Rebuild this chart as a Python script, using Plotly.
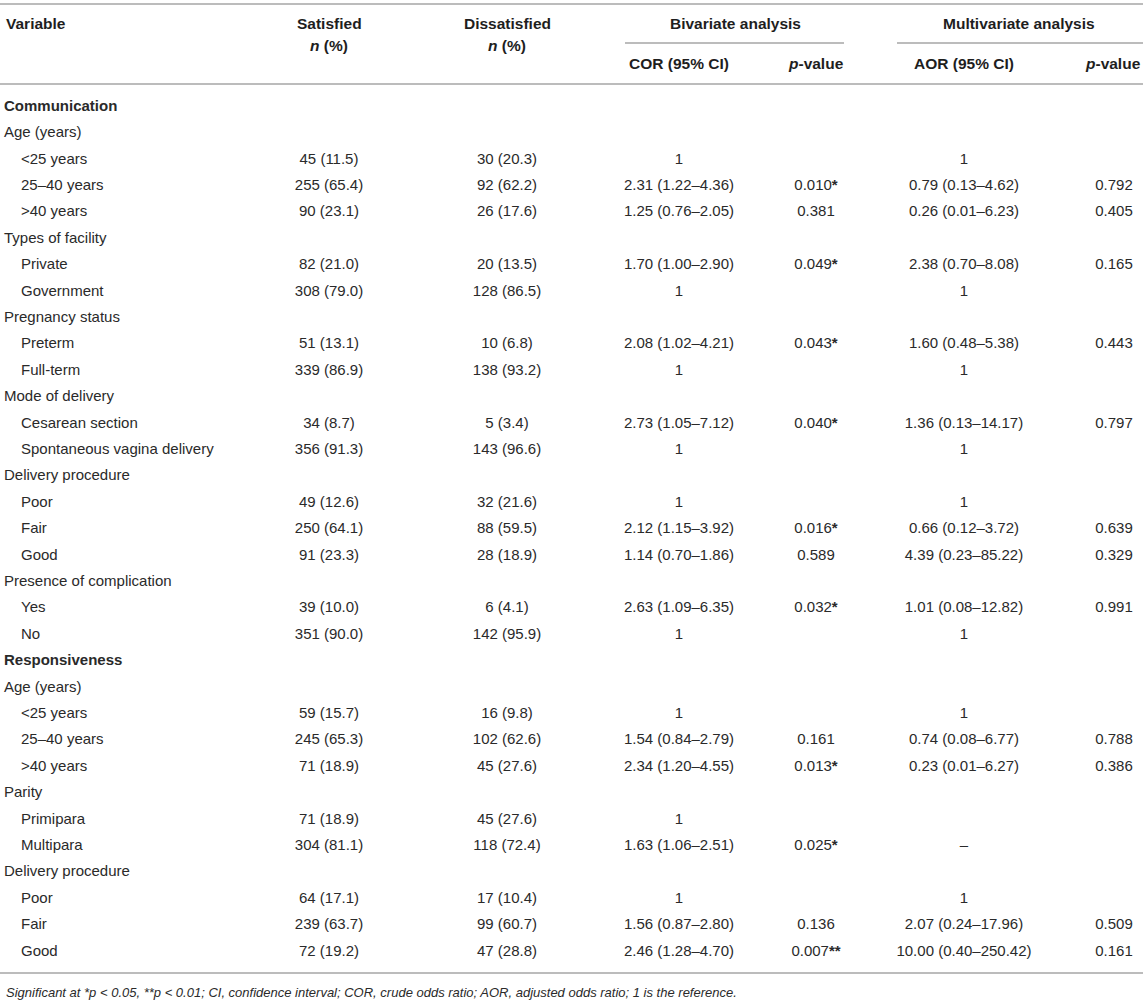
import plotly.graph_objects as go

# table content
SECTIONS = ["Communication", "Responsiveness"]

variable = [
    "Communication", "Age (years)", "&lt;25 years", "25–40 years", "&gt;40 years",
    "Types of facility", "Private", "Government",
    "Pregnancy status", "Preterm", "Full-term",
    "Mode of delivery", "Cesarean section", "Spontaneous vagina delivery",
    "Delivery procedure", "Poor", "Fair", "Good",
    "Presence of complication", "Yes", "No",
    "Responsiveness", "Age (years)", "&lt;25 years", "25–40 years", "&gt;40 years",
    "Parity", "Primipara", "Multipara",
    "Delivery procedure", "Poor", "Fair", "Good",
]
satisfied = [
    "", "", "45 (11.5)", "255 (65.4)", "90 (23.1)",
    "", "82 (21.0)", "308 (79.0)",
    "", "51 (13.1)", "339 (86.9)",
    "", "34 (8.7)", "356 (91.3)",
    "", "49 (12.6)", "250 (64.1)", "91 (23.3)",
    "", "39 (10.0)", "351 (90.0)",
    "", "", "59 (15.7)", "245 (65.3)", "71 (18.9)",
    "", "71 (18.9)", "304 (81.1)",
    "", "64 (17.1)", "239 (63.7)", "72 (19.2)",
]
dissatisfied = [
    "", "", "30 (20.3)", "92 (62.2)", "26 (17.6)",
    "", "20 (13.5)", "128 (86.5)",
    "", "10 (6.8)", "138 (93.2)",
    "", "5 (3.4)", "143 (96.6)",
    "", "32 (21.6)", "88 (59.5)", "28 (18.9)",
    "", "6 (4.1)", "142 (95.9)",
    "", "", "16 (9.8)", "102 (62.6)", "45 (27.6)",
    "", "45 (27.6)", "118 (72.4)",
    "", "17 (10.4)", "99 (60.7)", "47 (28.8)",
]
cor = [
    "", "", "1", "2.31 (1.22–4.36)", "1.25 (0.76–2.05)",
    "", "1.70 (1.00–2.90)", "1",
    "", "2.08 (1.02–4.21)", "1",
    "", "2.73 (1.05–7.12)", "1",
    "", "1", "2.12 (1.15–3.92)", "1.14 (0.70–1.86)",
    "", "2.63 (1.09–6.35)", "1",
    "", "", "1", "1.54 (0.84–2.79)", "2.34 (1.20–4.55)",
    "", "1", "1.63 (1.06–2.51)",
    "", "1", "1.56 (0.87–2.80)", "2.46 (1.28–4.70)",
]
p_cor = [
    "", "", "", "0.010*", "0.381",
    "", "0.049*", "",
    "", "0.043*", "",
    "", "0.040*", "",
    "", "", "0.016*", "0.589",
    "", "0.032*", "",
    "", "", "", "0.161", "0.013*",
    "", "", "0.025*",
    "", "", "0.136", "0.007**",
]
aor = [
    "", "", "1", "0.79 (0.13–4.62)", "0.26 (0.01–6.23)",
    "", "2.38 (0.70–8.08)", "1",
    "", "1.60 (0.48–5.38)", "1",
    "", "1.36 (0.13–14.17)", "1",
    "", "1", "0.66 (0.12–3.72)", "4.39 (0.23–85.22)",
    "", "1.01 (0.08–12.82)", "1",
    "", "", "1", "0.74 (0.08–6.77)", "0.23 (0.01–6.27)",
    "", "", "–",
    "", "1", "2.07 (0.24–17.96)", "10.00 (0.40–250.42)",
]
p_aor = [
    "", "", "", "0.792", "0.405",
    "", "0.165", "",
    "", "0.443", "",
    "", "0.797", "",
    "", "", "0.639", "0.329",
    "", "0.991", "",
    "", "", "", "0.788", "0.386",
    "", "", "",
    "", "", "0.509", "0.161",
]

FOOTNOTE = ("Significant at *<i>p</i> &lt; 0.05, **<i>p</i> &lt; 0.01; CI, confidence interval; "
            "COR, crude odds ratio; AOR, adjusted odds ratio; 1 is the reference.")

# layout (pixels)
W, H = 1146, 1002
ROW_TOP, ROW_STEP = 107, 26.4
X_LEFT, X_INDENT = 4, 21
COLS = {"sat": 329, "dis": 507, "cor": 679, "pc": 816, "aor": 964, "pa": 1114}
FONT = "Liberation Sans, Arial, Helvetica, sans-serif"
TXT = "#2a2a2a"
HEAD = "#1e1e1e"
LINE = "#a6a6a6"


def stars(s):
    # significance stars drawn heavier, as in the reference
    if "*" in s:
        base = s.rstrip("*")
        return base + "<b>" + s[len(base):] + "</b>"
    return s


ys = [ROW_TOP + i * ROW_STEP for i in range(len(variable))]

fig = go.Figure()

# variable column: section titles bold at the margin, groups at the margin, levels indented
lab_x, lab_t = [], []
for name, sat in zip(variable, satisfied):
    if name in SECTIONS:
        lab_x.append(X_LEFT)
        lab_t.append("<b>" + name + "</b>")
    elif sat:
        lab_x.append(X_INDENT)
        lab_t.append(name)
    else:
        lab_x.append(X_LEFT)
        lab_t.append(name)

fig.add_trace(go.Scatter(
    x=lab_x, y=ys, text=lab_t, mode="text", textposition="middle right",
    textfont=dict(family=FONT, size=15, color=TXT), hoverinfo="skip",
))

for key, vals in [("sat", satisfied), ("dis", dissatisfied), ("cor", cor),
                  ("pc", p_cor), ("aor", aor), ("pa", p_aor)]:
    fig.add_trace(go.Scatter(
        x=[COLS[key]] * len(vals), y=ys, text=[stars(v) for v in vals],
        mode="text", textposition="middle center",
        textfont=dict(family=FONT, size=15, color=TXT), hoverinfo="skip",
    ))

# header
hfont = dict(family=FONT, size=15.5, color=HEAD)
headers = [
    (X_LEFT, 23, "<b>Variable</b>", "left"),
    (COLS["sat"], 23, "<b>Satisfied</b>", "center"),
    (COLS["sat"], 45, "<b><i>n</i> (%)</b>", "center"),
    (COLS["dis"], 23, "<b>Dissatisfied</b>", "center"),
    (COLS["dis"], 45, "<b><i>n</i> (%)</b>", "center"),
    (735, 23, "<b>Bivariate analysis</b>", "center"),
    (1019, 23, "<b>Multivariate analysis</b>", "center"),
    (COLS["cor"], 63, "<b>COR (95% CI)</b>", "center"),
    (COLS["pc"], 63, "<b><i>p</i>-value</b>", "center"),
    (COLS["aor"], 63, "<b>AOR (95% CI)</b>", "center"),
    (1143, 63, "<b><i>p</i>-value</b>", "right"),
]
for x, y, t, al in headers:
    fig.add_annotation(x=x, y=y, text=t, showarrow=False, xanchor=al, yanchor="middle",
                       font=hfont)

fig.add_annotation(x=X_LEFT, y=992, text="<i>" + FOOTNOTE + "</i>", showarrow=False,
                   xanchor="left", yanchor="middle",
                   font=dict(family=FONT, size=13, color=TXT))

# rules
for x0, x1, y in [(0, 1143, 4), (625, 844, 43), (897, 1143, 43), (0, 1143, 84), (0, 1143, 973)]:
    fig.add_shape(type="line", x0=x0, x1=x1, y0=y, y1=y, line=dict(color=LINE, width=1.6))

fig.update_layout(
    width=W, height=H, margin=dict(l=0, r=0, t=0, b=0),
    paper_bgcolor="white", plot_bgcolor="white", showlegend=False,
    xaxis=dict(range=[0, W], visible=False, fixedrange=True),
    yaxis=dict(range=[H, 0], visible=False, fixedrange=True),
)

# drop the browser's default body margin so the figure fills the window exactly
fig.write_html("out.html", config={"displayModeBar": False},
               post_script="document.body.style.margin='0';document.body.style.overflow='hidden';")
